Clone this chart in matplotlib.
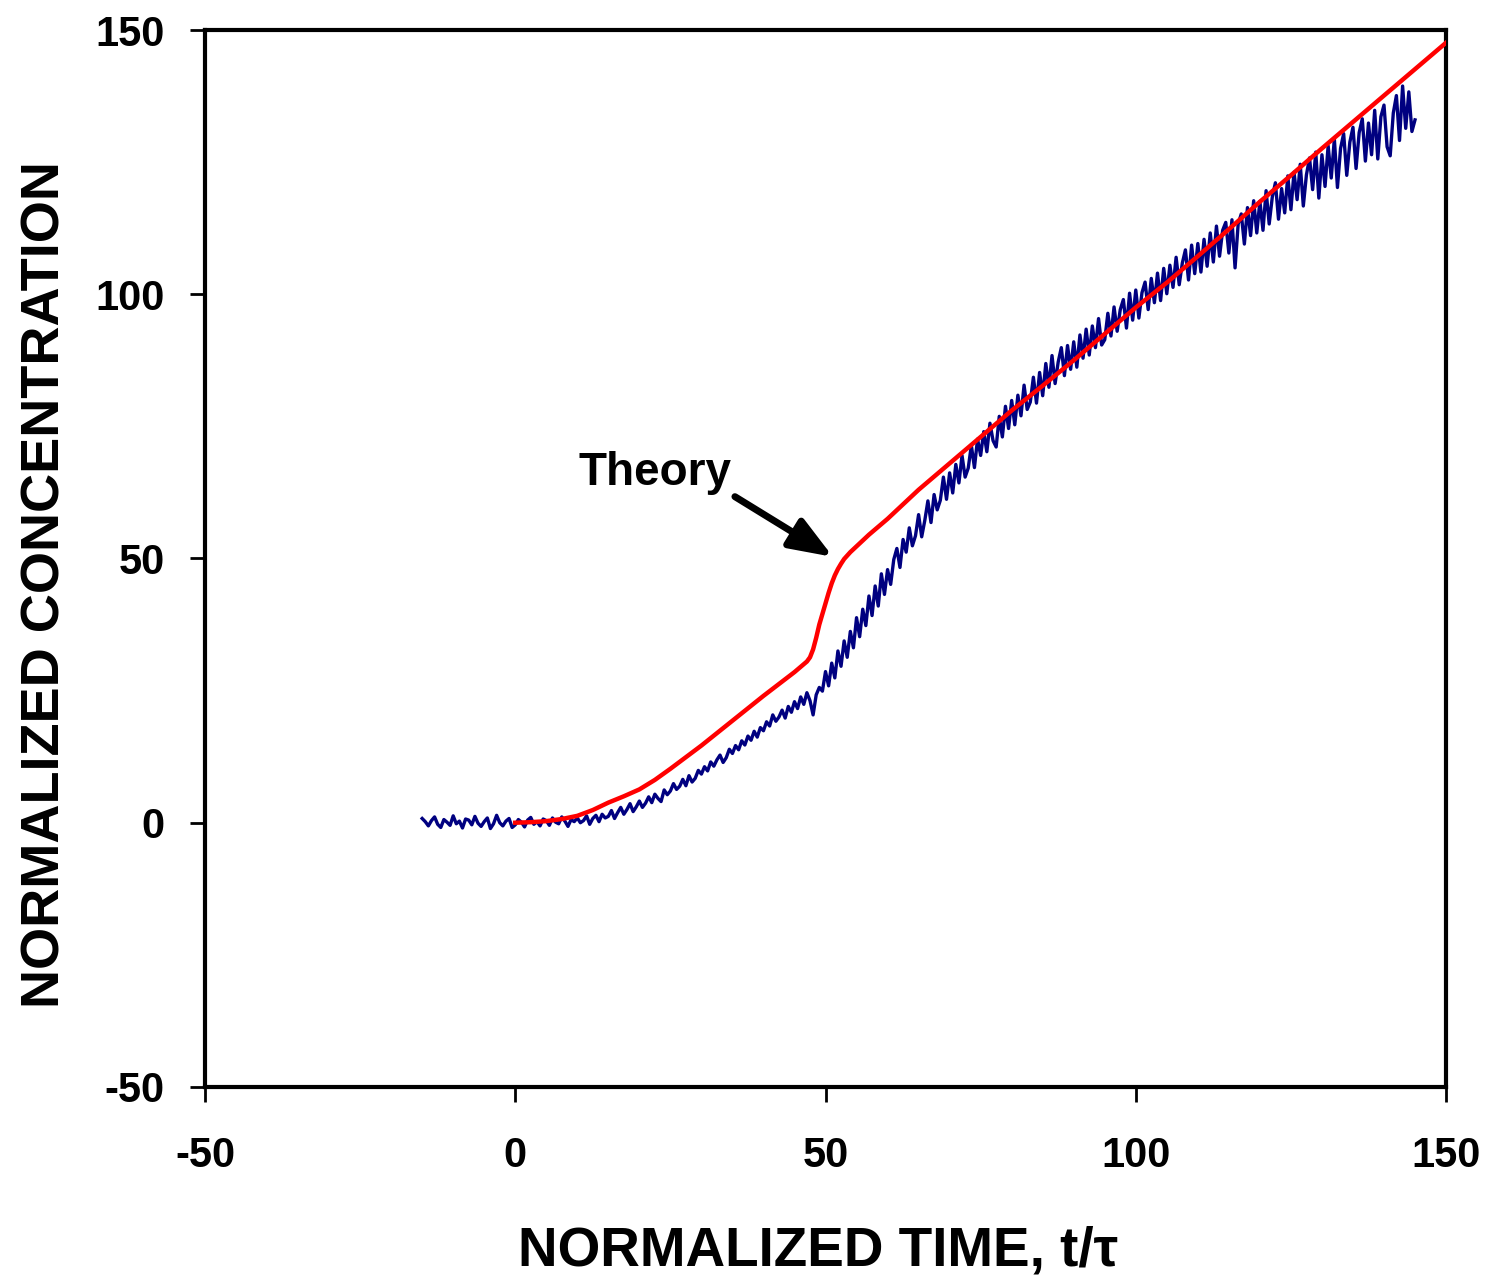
import matplotlib
matplotlib.use("Agg")
import matplotlib.pyplot as plt
import numpy as np

# Theory curve (red)
theory_t = [0, 2.5, 5, 7.5, 10, 12.5, 15, 17.5, 20, 22.5, 25, 27.5, 30, 35, 40,
            45, 46, 47, 47.5, 48, 48.5, 49, 49.5, 50, 50.5, 51, 51.5, 52, 52.5,
            53, 54, 55, 57, 60, 65, 70, 75, 80, 85, 90, 95, 100, 105, 110, 115,
            120, 125, 130, 135, 140, 145, 150]
theory_c = [0, 0.1, 0.3, 0.7, 1.3, 2.4, 3.8, 5.0, 6.3, 8.1, 10.2, 12.4, 14.6,
            19.3, 24.0, 28.5, 29.5, 30.5, 31.3, 32.8, 35.0, 37.5, 39.5, 41.5,
            43.5, 45.3, 46.8, 48.0, 49.0, 49.9, 51.2, 52.3, 54.5, 57.5, 63.0,
            68.0, 73.0, 78.0, 82.7, 87.5, 92.5, 97.5, 102.2, 107.2, 112.3,
            117.5, 122.5, 127.6, 132.6, 137.6, 142.6, 147.6]

# Measured data (navy), one reading per half unit of t/tau from -15 to 145
data_t = np.arange(-15, 145.5, 0.5)
data_c = [
    0.8, 0.2, -0.6, 0.4, 1.1, -0.3, -0.9, 0.6, 0.1, -0.5,
    1.3, -0.2, 0.3, -1.0, 0.7, 0.5, -0.4, 1.2, -0.1, -0.7,
    0.2, 0.9, -1.1, -0.2, 1.4, 0.0, -0.6, 0.3, 0.8, -0.9,
    -0.4, 0.6, 0.1, -0.8, 0.5, 1.0, -0.3, 0.2, -0.6, 0.7,
    0.4, -0.5, 0.9, 0.1, -0.2, 1.1, 0.3, -0.7, 0.6, 0.2,
    0.9, 0.0, 0.4, 1.3, -0.3, 0.8, 1.4, 0.2, 1.6, 0.9,
    1.2, 2.3, 0.8, 1.9, 2.9, 1.6, 2.5, 3.6, 2.1, 3.0,
    4.1, 2.9, 3.7, 4.9, 3.8, 5.4, 4.6, 4.0, 6.2, 5.3,
    6.0, 7.4, 6.3, 6.9, 8.2, 7.0, 8.9, 7.7, 8.4, 9.9,
    9.2, 10.6, 9.8, 11.5, 10.7, 11.9, 12.8, 11.4, 12.3, 13.9,
    13.1, 14.6, 13.8, 15.5, 14.7, 16.4, 15.6, 17.3, 16.2, 18.0,
    17.4, 19.1, 18.3, 20.4, 19.2, 20.0, 21.3, 19.8, 22.0, 20.9,
    22.9, 21.6, 23.8, 22.4, 24.6, 23.1, 20.4, 24.2, 25.6, 24.9,
    28.6, 25.9, 30.2, 27.4, 32.5, 29.6, 34.4, 31.3, 36.2, 33.1,
    38.8, 35.2, 40.4, 37.3, 42.9, 39.2, 44.8, 41.0, 47.1, 43.2,
    47.9, 45.1, 49.8, 51.9, 48.3, 53.6, 51.2, 55.8, 52.4, 54.3,
    58.3, 54.1, 57.2, 60.9, 56.8, 62.1, 59.2, 61.0, 65.4, 61.2,
    66.2, 62.4, 67.8, 64.3, 69.5, 65.4, 67.1, 71.4, 67.2, 72.6,
    69.5, 74.0, 70.2, 75.6, 72.3, 71.1, 76.9, 73.0, 78.8, 74.6,
    79.9, 75.3, 80.9, 77.0, 82.8, 78.2, 79.6, 84.3, 79.4, 85.2,
    80.8, 86.9, 82.4, 88.4, 83.1, 87.2, 89.9, 84.6, 90.3, 85.8,
    91.0, 86.2, 92.3, 87.9, 93.4, 88.5, 94.0, 89.9, 95.4, 90.4,
    91.4, 96.4, 92.1, 97.6, 93.0, 97.1, 99.0, 93.6, 100.2, 95.1,
    100.8, 95.5, 100.3, 102.3, 97.1, 103.0, 98.4, 104.0, 98.8, 104.9,
    100.1, 105.5, 101.3, 107.0, 101.8, 105.9, 108.4, 102.7, 109.3, 103.9,
    109.6, 104.2, 110.4, 105.3, 111.6, 106.1, 112.9, 107.2, 112.1, 113.6,
    107.8, 114.1, 105.0, 113.3, 115.2, 109.5, 116.4, 111.1, 117.7, 111.6,
    117.6, 112.1, 119.6, 113.3, 118.4, 121.1, 114.2, 120.0, 115.4, 122.4,
    116.0, 123.1, 117.9, 124.6, 116.7, 122.6, 125.8, 119.8, 126.9, 118.2,
    126.4, 120.4, 128.1, 122.0, 129.4, 120.2, 127.6, 130.4, 122.5, 128.8,
    131.6, 123.8, 130.6, 133.2, 125.2, 132.4, 126.4, 134.8, 125.6, 133.6,
    135.8, 127.9, 126.2, 134.3, 137.6, 129.1, 139.4, 131.4, 138.3, 130.8,
    133.0,
]

x_ticks = [-50, 0, 50, 100, 150]
y_ticks = [-50, 0, 50, 100, 150]

plt.rcParams["font.family"] = ["Liberation Sans", "DejaVu Sans"]
plt.rcParams["font.weight"] = "bold"
plt.rcParams["axes.unicode_minus"] = False

fig = plt.figure(figsize=(14.94, 12.78), dpi=100)
ax = fig.add_axes([0.1372, 0.1495, 0.8307, 0.8270])

ax.plot(data_t, data_c, color="#000080", lw=2.4, zorder=2)
ax.plot(theory_t, theory_c, color="#ff0000", lw=3.2, zorder=3)

ax.set_xlim(-50, 150)
ax.set_ylim(-50, 150)
ax.set_xticks(x_ticks)
ax.set_yticks(y_ticks)
ax.tick_params(direction="out", length=11, width=2)
ax.tick_params(axis="x", pad=24, labelsize=30)
ax.tick_params(axis="y", pad=18, labelsize=30)
for lab in ax.get_xticklabels() + ax.get_yticklabels():
    lab.set_fontweight("bold")
for sp in ax.spines.values():
    sp.set_linewidth(3)

ax.set_xlabel("NORMALIZED TIME, t/\u03c4", fontsize=39.5, fontweight="bold", labelpad=36)
ax.xaxis.label.set_x(0.494)
ax.set_ylabel("NORMALIZED CONCENTRATION", fontsize=39, fontweight="bold", labelpad=18)
ax.yaxis.label.set_y(0.475)

# label and arrow pointing at the theory curve
ax.text(10.2, 64, "Theory", fontsize=33, fontweight="bold", ha="left", va="baseline")
ax.annotate("", xy=(51.2, 50.3), xytext=(35.4, 61.7),
            arrowprops=dict(arrowstyle="-|>,head_length=26,head_width=10",
                            mutation_scale=1, color="black", lw=5,
                            shrinkA=0, shrinkB=0))

fig.savefig("out.png", dpi=100)
